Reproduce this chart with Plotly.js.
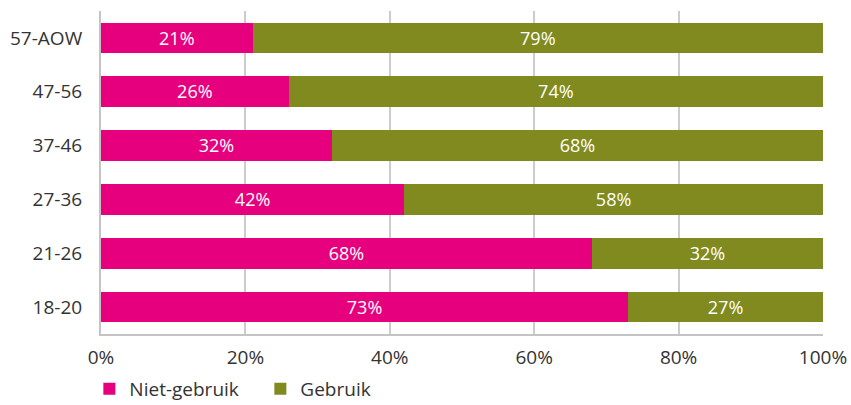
<!DOCTYPE html>
<html><head><meta charset="utf-8">
<script src="https://cdn.plot.ly/plotly-3.0.1.min.js"></script>
<style>body{margin:0;background:#fff}#c{width:851px;height:405px}</style>
</head><body><div id="c"></div>
<script>
const categories = ["18-20", "21-26", "27-36", "37-46", "47-56", "57-AOW"];
const nietGebruik = [73, 68, 42, 32, 26, 21];
const gebruik = [27, 32, 58, 68, 74, 79];
const xTickVals = [0, 20, 40, 60, 80, 100];
const xTickText = ["0%", "20%", "40%", "60%", "80%", "100%"];

const font = "Open Sans, Noto Sans, sans-serif";
function series(name, vals, color) {
  return {
    type: "bar", orientation: "h", name: name,
    y: categories, x: vals,
    marker: {color: color, line: {width: 0}},
    text: vals.map(v => v + "%"),
    textposition: "inside", insidetextanchor: "middle",
    textfont: {color: "#ffffff", size: 19, family: font},
    hoverinfo: "none"
  };
}
const data = [
  series("Niet-gebruik", nietGebruik, "#E6007E"),
  series("Gebruik", gebruik, "#808A1F")
];
const layout = {
  width: 851, height: 405,
  margin: {l: 101, r: 28, t: 11, b: 71, autoexpand: false},
  barmode: "stack", bargap: 0.43,
  paper_bgcolor: "#fff", plot_bgcolor: "#fff",
  font: {family: font, size: 19, color: "#333"},
  showlegend: true,
  legend: {orientation: "h", xref: "container", yref: "container",
           x: 0.105, xanchor: "left", y: 0.04, yanchor: "middle",
           entrywidth: 126, entrywidthmode: "pixels",
           font: {size: 19, color: "#333", family: font}, traceorder: "normal", itemwidth: 30},
  xaxis: {range: [0, 100], tickvals: xTickVals, ticktext: xTickText,
          showgrid: true, gridcolor: "#cccccc", gridwidth: 2, zeroline: false,
          showline: true, linecolor: "#c4c4c4", linewidth: 2,
          ticks: "", ticklen: 0, ticklabelstandoff: 5, tickfont: {size: 19, color: "#333"}, fixedrange: true},
  yaxis: {showgrid: false, zeroline: false, showline: true, linecolor: "#c4c4c4", linewidth: 2,
          ticks: "", ticklabelstandoff: 13, tickfont: {size: 19, color: "#333"}, automargin: false}
};
Plotly.newPlot("c", data, layout, {displayModeBar: false, staticPlot: true});
</script></body></html>
